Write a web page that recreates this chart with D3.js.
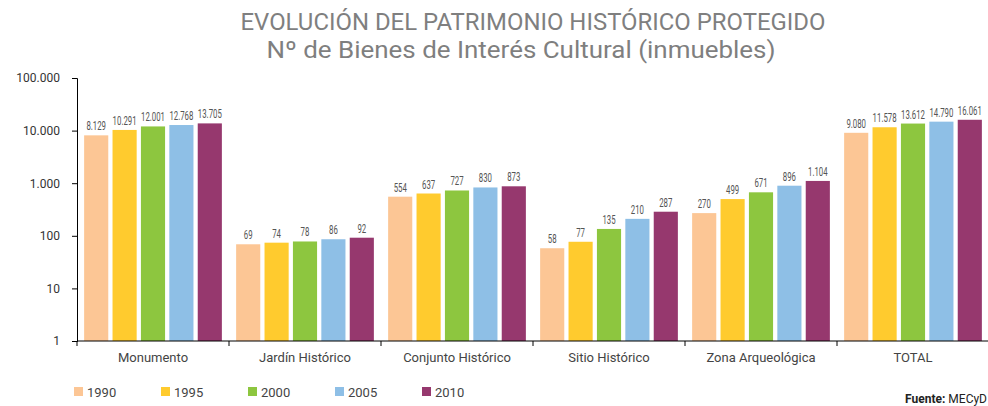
<!DOCTYPE html>
<html>
<head>
<meta charset="utf-8">
<script src="https://d3js.org/d3.v7.min.js"></script>
<style>
  body { margin: 0; background: #fff; }
  text { font-family: Roboto, "Open Sans", sans-serif; }
</style>
</head>
<body>
<div id="chart"></div>
<script>
const categories = ["Monumento", "Jardín Histórico", "Conjunto Histórico", "Sitio Histórico", "Zona Arqueológica", "TOTAL"];
const years = ["1990", "1995", "2000", "2005", "2010"];
const v1990 = [8129, 69, 554, 58, 270, 9080];
const v1995 = [10291, 74, 637, 77, 499, 11578];
const v2000 = [12001, 78, 727, 135, 671, 13612];
const v2005 = [12768, 86, 830, 210, 896, 14790];
const v2010 = [13705, 92, 873, 287, 1104, 16061];
const yTicks = [1, 10, 100, 1000, 10000, 100000];
const colors = ["#fcc695", "#ffcb2e", "#8dc63f", "#8ebfe6", "#96386e"];

const series = [v1990, v1995, v2000, v2005, v2010];
const width = 988, height = 406;
const margin = {top: 78, right: 0, bottom: 65, left: 77};

const fmt = v => d3.format(",")(v).replace(/,/g, ".");

const svg = d3.create("svg").attr("width", width).attr("height", height);

// titles
svg.append("text")
  .attr("x", 533).attr("y", 30)
  .attr("text-anchor", "middle")
  .attr("fill", "#7f7f7f")
  .attr("font-size", 24)
  .attr("textLength", 585).attr("lengthAdjust", "spacingAndGlyphs")
  .text("EVOLUCIÓN DEL PATRIMONIO HISTÓRICO PROTEGIDO");
svg.append("text")
  .attr("x", 521).attr("y", 58)
  .attr("text-anchor", "middle")
  .attr("fill", "#7f7f7f")
  .attr("font-size", 24)
  .attr("textLength", 509).attr("lengthAdjust", "spacingAndGlyphs")
  .text("Nº de Bienes de Interés Cultural (inmuebles)");

const x0 = d3.scaleBand()
  .domain(categories)
  .range([margin.left, margin.left + 6 * 152]);

const x1 = d3.scaleBand()
  .domain(years)
  .range([5, 147])
  .paddingInner(0.15)
  .paddingOuter(0.075);

const y = d3.scaleLog()
  .domain([1, 100000])
  .range([height - margin.bottom, margin.top]);

const color = d3.scaleOrdinal().domain(years).range(colors);

// bars
const groups = svg.append("g")
  .selectAll("g")
  .data(categories)
  .join("g")
  .attr("transform", d => `translate(${x0(d)},0)`);

groups.selectAll("rect")
  .data((c, i) => years.map((yr, j) => ({year: yr, value: series[j][i]})))
  .join("rect")
  .attr("x", d => x1(d.year))
  .attr("width", x1.bandwidth())
  .attr("y", d => y(d.value))
  .attr("height", d => y(1) - y(d.value))
  .attr("fill", d => color(d.year));

groups.selectAll("text")
  .data((c, i) => years.map((yr, j) => ({year: yr, value: series[j][i]})))
  .join("text")
  .attr("transform", d => `translate(${x1(d.year) + x1.bandwidth() / 2},${y(d.value) - 5}) scale(0.6,1)`)
  .attr("text-anchor", "middle")
  .attr("fill", "#555")
  .attr("font-size", 13)
  .text(d => fmt(d.value));

// y axis
const yAxis = svg.append("g")
  .attr("transform", `translate(${margin.left},0)`)
  .call(d3.axisLeft(y).tickValues(yTicks).tickFormat(fmt).tickSizeOuter(0).tickSize(5));
yAxis.select(".domain").attr("stroke", "#000");
yAxis.selectAll(".tick line").attr("stroke", "#000");
yAxis.selectAll(".tick text")
  .attr("font-size", 12)
  .attr("fill", "#333")
  .attr("x", -17)
  .attr("font-family", "Roboto, sans-serif");

// x axis
const xAxis = svg.append("g")
  .attr("transform", `translate(0,${y(1)})`);
xAxis.append("line")
  .attr("x1", margin.left).attr("x2", width)
  .attr("stroke", "#000");
xAxis.selectAll("line.tk")
  .data(categories)
  .join("line")
  .attr("class", "tk")
  .attr("x1", d => x0(d)).attr("x2", d => x0(d))
  .attr("y1", 0).attr("y2", 5)
  .attr("stroke", "#000");
xAxis.selectAll("text")
  .data(categories)
  .join("text")
  .attr("x", d => x0(d) + x0.bandwidth() / 2)
  .attr("y", 21)
  .attr("text-anchor", "middle")
  .attr("fill", "#444")
  .attr("font-size", 13)
  .text(d => d);

// legend
const legend = svg.append("g")
  .selectAll("g")
  .data(years)
  .join("g")
  .attr("transform", (d, i) => `translate(${74 + i * 87},387)`);
legend.append("rect")
  .attr("width", 9).attr("height", 9)
  .attr("fill", d => color(d));
legend.append("text")
  .attr("x", 13).attr("y", 9.5)
  .attr("fill", "#444")
  .attr("font-size", 13)
  .text(d => d);

// source
const src = svg.append("text")
  .attr("x", 987).attr("y", 403)
  .attr("text-anchor", "end")
  .attr("font-size", 12)
  .attr("fill", "#222");
src.append("tspan").attr("font-weight", "bold").text("Fuente: ");
src.append("tspan").text("MECyD");

document.getElementById("chart").appendChild(svg.node());
</script>
</body>
</html>
